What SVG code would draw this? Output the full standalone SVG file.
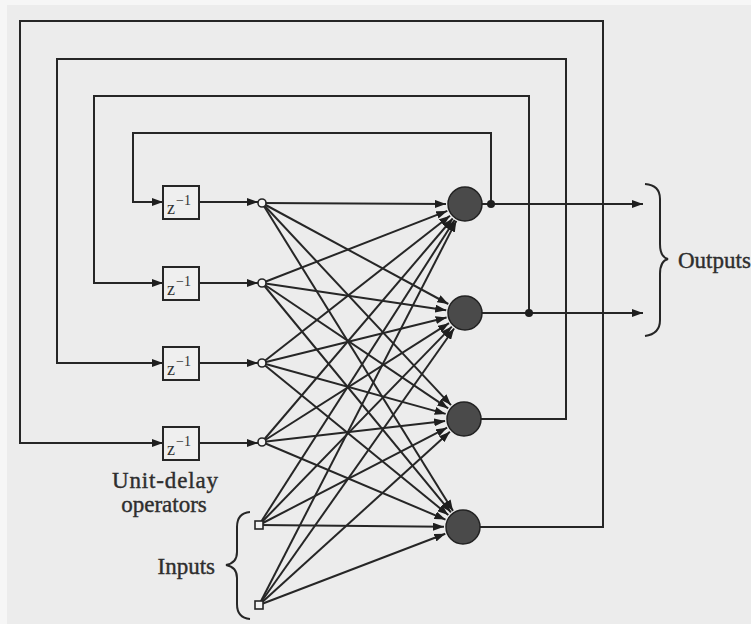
<svg xmlns="http://www.w3.org/2000/svg" width="751" height="624" viewBox="0 0 751 624">
<style>
.ln{fill:none;stroke:#262626;stroke-width:2}
.ar{marker-end:url(#ah)}
.box{fill:#efefef;stroke:#262626;stroke-width:2}
.neu{fill:#4a4a4a;stroke:#222;stroke-width:1.5}
.src{fill:#f4f4f4;stroke:#262626;stroke-width:1.6}
.dot{fill:#1e1e1e}
.lbl{font-family:"Liberation Serif","Times New Roman",serif;font-size:23px;fill:#2e2e2e;stroke:#2e2e2e;stroke-width:0.4}
.z{font-family:"Liberation Serif","Times New Roman",serif;fill:#333}
</style>
<defs>
<marker id="ah" markerUnits="userSpaceOnUse" markerWidth="11" markerHeight="8" refX="11" refY="4" orient="auto">
<path d="M0,0 L11,4 L0,8 z" fill="#1e1e1e"/>
</marker>
</defs>
<rect x="0" y="0" width="751" height="624" fill="#f6f6f6"/>
<rect x="7" y="5" width="744" height="619" fill="#ececec"/>

<g id="connectors">
<!-- feedback loops -->
<path class="ln ar" d="M491,204 V133 H133 V202 H163"/>
<path class="ln ar" d="M529,313 V96 H94 V283 H163"/>
<path class="ln ar" d="M481,419 H566 V59 H57 V363 H163"/>
<path class="ln ar" d="M480,527 H603 V21 H20 V443 H163"/>
<!-- delay to node -->
<path class="ln ar" d="M199,202 H258"/>
<path class="ln ar" d="M199,283 H258"/>
<path class="ln ar" d="M199,363 H258"/>
<path class="ln ar" d="M199,443 H258"/>
<!-- outputs -->
<path class="ln ar" d="M482,204 H643"/>
<path class="ln ar" d="M482,313 H643"/>
<!-- fully connected: to neuron 1 -->
<path class="ln ar" d="M262,203 L446,204"/>
<path class="ln ar" d="M262,283 L447.3,210.9"/>
<path class="ln ar" d="M262,363 L450,215.7"/>
<path class="ln ar" d="M262,442 L452.7,218.5"/>
<path class="ln ar" d="M259,525 L454.7,220"/>
<path class="ln ar" d="M259,605 L456.3,220.9"/>
<!-- to neuron 2 -->
<path class="ln ar" d="M262,203 L448.3,304"/>
<path class="ln ar" d="M262,283 L446.2,310.2"/>
<path class="ln ar" d="M262,363 L446.6,317.5"/>
<path class="ln ar" d="M262,442 L449,323.2"/>
<path class="ln ar" d="M259,525 L451.8,326.6"/>
<path class="ln ar" d="M259,605 L454.1,328.5"/>
<!-- to neuron 3 -->
<path class="ln ar" d="M262,203 L451,405.1"/>
<path class="ln ar" d="M262,283 L448.2,408.4"/>
<path class="ln ar" d="M262,363 L445.7,413.9"/>
<path class="ln ar" d="M262,442 L445.1,421.1"/>
<path class="ln ar" d="M259,525 L447.1,427.7"/>
<path class="ln ar" d="M259,605 L449.9,431.8"/>
<!-- to neuron 4 -->
<path class="ln ar" d="M262,203 L453,510.9"/>
<path class="ln ar" d="M262,283 L450.9,512.3"/>
<path class="ln ar" d="M262,363 L448.3,515"/>
<path class="ln ar" d="M262,442 L445.5,519.6"/>
<path class="ln ar" d="M259,525 L444,526.8"/>
<path class="ln ar" d="M259,605 L445.3,533.8"/>
<circle class="dot" cx="491" cy="204" r="4"/>
<circle class="dot" cx="529" cy="313" r="4"/>
</g>

<g id="delay1"><rect class="box" x="163" y="186" width="36" height="33"/><text class="z" x="167" y="214" font-size="18">z</text><text class="z" x="176" y="205" font-size="14">−1</text></g>
<g id="delay2"><rect class="box" x="163" y="267" width="36" height="33"/><text class="z" x="167" y="295" font-size="18">z</text><text class="z" x="176" y="286" font-size="14">−1</text></g>
<g id="delay3"><rect class="box" x="163" y="347" width="36" height="33"/><text class="z" x="167" y="375" font-size="18">z</text><text class="z" x="176" y="366" font-size="14">−1</text></g>
<g id="delay4"><rect class="box" x="163" y="427" width="36" height="33"/><text class="z" x="167" y="455" font-size="18">z</text><text class="z" x="176" y="446" font-size="14">−1</text></g>

<g id="src1"><circle class="src" cx="262" cy="203" r="4"/></g>
<g id="src2"><circle class="src" cx="262" cy="283" r="4"/></g>
<g id="src3"><circle class="src" cx="262" cy="363" r="4"/></g>
<g id="src4"><circle class="src" cx="262" cy="442" r="4"/></g>
<g id="input1"><rect class="src" x="255" y="521" width="8" height="8"/></g>
<g id="input2"><rect class="src" x="255" y="601" width="8" height="8"/></g>

<g id="neuron1"><circle class="neu" cx="465" cy="204" r="17"/></g>
<g id="neuron2"><circle class="neu" cx="465" cy="313" r="17"/></g>
<g id="neuron3"><circle class="neu" cx="464" cy="419" r="17"/></g>
<g id="neuron4"><circle class="neu" cx="463" cy="527" r="17"/></g>

<g id="outputs-label">
<path class="ln" d="M645,184 Q660,185 660,199 V244 Q660,257 668,259 Q660,261 660,274 V320 Q660,334 645,336"/>
<text class="lbl" x="678" y="268">Outputs</text>
</g>
<g id="inputs-label">
<path class="ln" d="M250,512 Q237,513 237,527 V552 Q237,563 226,565 Q237,567 237,578 V604 Q237,618 250,619"/>
<text class="lbl" x="215" y="574" text-anchor="end">Inputs</text>
</g>
<g id="delay-label">
<text class="lbl" x="112" y="488" textLength="106" lengthAdjust="spacing">Unit-delay</text>
<text class="lbl" x="164" y="512" text-anchor="middle">operators</text>
</g>
</svg>
